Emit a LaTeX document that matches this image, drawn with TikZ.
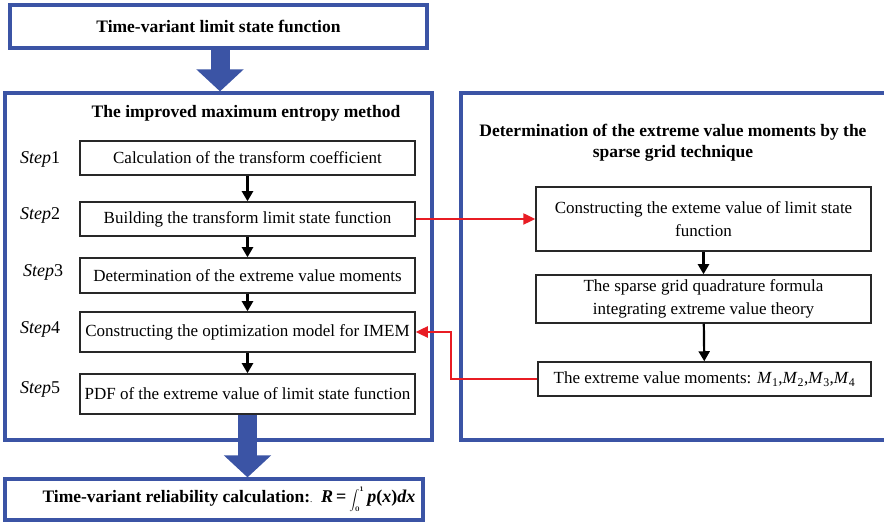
\documentclass[tikz,border=0pt]{standalone}
\usepackage{fontspec}
\setmainfont{Liberation Serif}
\usetikzlibrary{arrows.meta}
\definecolor{frameblue}{RGB}{59,84,165}
\definecolor{linkred}{RGB}{232,28,36}
\definecolor{boxline}{RGB}{40,40,40}

\begin{document}
\begin{tikzpicture}[x=1pt,y=-1pt,
  framebox/.style={draw=frameblue, line width=3.2pt, inner sep=0pt,
    font=\fontsize{17.5}{20}\selectfont\bfseries},
  stepbox/.style={draw=boxline, line width=1.5pt, inner sep=0pt, align=center,
    minimum width=335pt, font=\fontsize{17}{23}\selectfont},
  steplabel/.style={anchor=west, inner sep=0pt, font=\fontsize{18}{20}\selectfont},
  heading/.style={inner sep=0pt, align=center, font=\fontsize{17.5}{21}\selectfont\bfseries},
  flow/.style={draw=black, line width=2.2pt, -{Triangle[length=10pt,width=11pt]}},
  link/.style={draw=linkred, line width=2.4pt, -{Triangle[length=12pt,width=11pt]}},
  bigarrow/.style={draw=frameblue, line width=19pt, -{Triangle[length=22pt,width=46pt]}},
]
\useasboundingbox (0,0) rectangle (884,526);
\clip (0,0) rectangle (884,526);

% outer frames
\node (top) [framebox, minimum width=417pt, minimum height=43pt] at (218.5,26.5)
  {Time-variant limit state function};
\node (leftframe) [framebox, minimum width=427pt, minimum height=347pt] at (218.5,266.5) {};
\node (rightframe) [framebox, minimum width=439pt, minimum height=347pt] at (680.5,266.5) {};
\node (bottom) [framebox, minimum width=418pt, minimum height=41pt] at (214,499.5)
  {\hspace*{30pt}Time-variant reliability calculation:{\normalfont\small.}\ \
   {\fontsize{18}{20}\selectfont\textit{R}\,=\,{\fontsize{10}{10}\selectfont\boldmath$\displaystyle\int_0^1$}\,\textit{p}(\textit{x})\textit{dx}}};

% left column: the improved maximum entropy method
\node (lefttitle) [heading] at (246,113) {The improved maximum entropy method};
\node (s1) [stepbox, minimum height=34pt] at (247.5,158) {Calculation of the transform coefficient};
\node (s2) [stepbox, minimum height=34pt] at (247.5,219) {Building the transform limit state function};
\node (s3) [stepbox, minimum height=35pt] at (247.5,275.5) {Determination of the extreme value moments};
\node (s4) [stepbox, minimum height=40pt] at (247.5,332) {Constructing the optimization model for IMEM};
\node (s5) [stepbox, minimum height=40pt] at (247.5,394) {PDF of the extreme value of limit state function};

\node (l1) [steplabel] at (20,159) {\textit{Step}1};
\node (l2) [steplabel] at (20,215) {\textit{Step}2};
\node (l3) [steplabel] at (23,272) {\textit{Step}3};
\node (l4) [steplabel] at (20,329) {\textit{Step}4};
\node (l5) [steplabel] at (20,389) {\textit{Step}5};

% right column: sparse grid technique
\node (righttitle) [heading] at (673,143)
  {Determination of the extreme value moments by the\\sparse grid technique};
\node (ra) [stepbox, minimum height=64pt] at (703.5,219)
  {Constructing the exteme value of limit state\\function};
\node (rb) [stepbox, minimum height=48pt] at (703.5,299)
  {The sparse grid quadrature formula\\integrating extreme value theory};
\node (rc) [stepbox, minimum width=333pt, minimum height=34pt] at (704.5,379)
  {The extreme value moments: \textit{M}\textsubscript{1},\textit{M}\textsubscript{2},\textit{M}\textsubscript{3},\textit{M}\textsubscript{4}};

% connectors
\draw[bigarrow] ([xshift=1.5pt]top.south) -- ([xshift=1.5pt]top.south |- leftframe.north);
\draw[bigarrow] (s5.south) -- (s5.south |- bottom.north);

\draw[flow] (s1) -- (s2);
\draw[flow] (s2) -- (s3);
\draw[flow] (s3) -- (s4);
\draw[flow] (s4) -- (s5);
\draw[flow] (ra) -- (rb);
\draw[flow] (rb) -- (rc);

\coordinate (bend) at (451,0);
\draw[link] (s2.east) -- (ra.west);
\draw[link] (rc.west) -- (bend |- rc.west) |- (s4.east);
\end{tikzpicture}
\end{document}
